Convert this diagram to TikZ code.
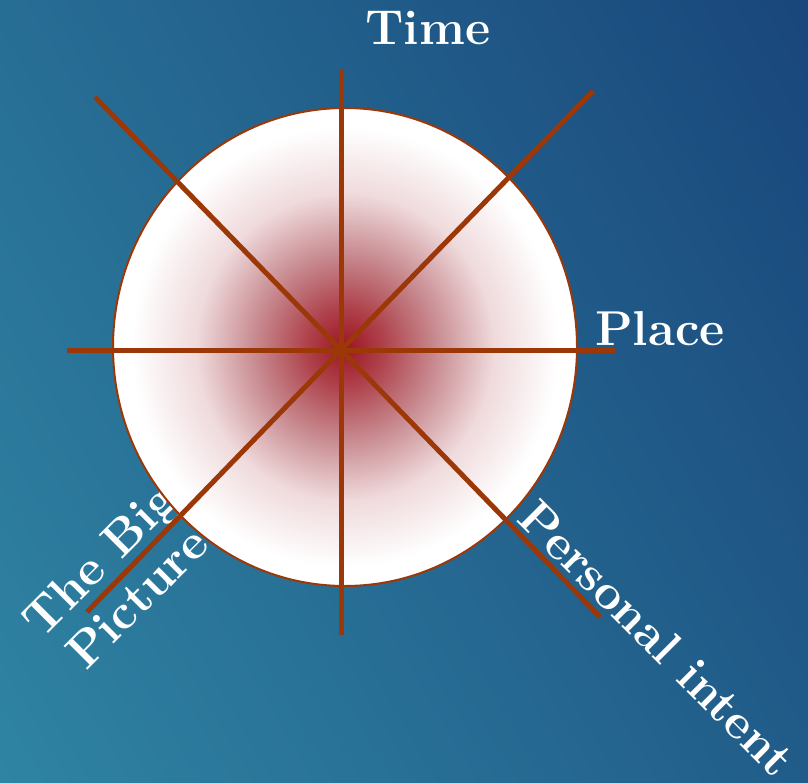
\documentclass[tikz,border=0pt]{standalone}
\usepackage{fontspec}
\usepackage{xcolor}
\usetikzlibrary{calc}

\definecolor{bgteal}{RGB}{52,146,172}
\definecolor{bgnavy}{RGB}{20,56,114}
\definecolor{spokebrown}{RGB}{156,56,8}
\definecolor{glowred}{RGB}{156,22,34}
\pgfdeclarehorizontalshading{bgfade}{100bp}{color(0bp)=(bgteal); color(100bp)=(bgnavy)}
\pgfdeclareradialshading{discglow}{\pgfpoint{0bp}{0bp}}{color(0bp)=(glowred); color(4bp)=(glowred!82!white); color(10bp)=(glowred!48!white!92!gray); color(16bp)=(glowred!16!white); color(23bp)=(white); color(50bp)=(white)}

\begin{document}
\begin{tikzpicture}[x=1pt, y=-1pt,
    heading/.style={text=white, inner sep=0pt, font=\bfseries\fontsize{49}{54}\selectfont},
    spokeline/.style={spokebrown, line width=5}]
  % Canvas
  \useasboundingbox (0,0) rectangle (808,783);
  \clip (0,0) rectangle (808,783);
  \shade[shading=bgfade, shading angle=30] (0,0) rectangle (808,783);
  % Labels
  \node[heading, anchor=base] (time) at (428,45) {Time};
  \node[heading, anchor=base west] (place) at (595,345) {Place};
  \node[heading, align=center, rotate=45] (bigpic) at (118,578) {The Big\\Picture};
  \node[heading, rotate=-45] (intent) at (657,638) {Personal intent};
  % The disc
  \shadedraw[shading=discglow, draw=spokebrown, line width=2] (345,347) ellipse [x radius=232, y radius=239];
  % Spokes through the hub
  \coordinate (hub) at (341,350);
  \coordinate (n) at (341,69);
  \coordinate (s) at (341,635);
  \coordinate (w) at (67,350);
  \coordinate (e) at (615,350);
  \coordinate (nw) at (95,97);
  \coordinate (se) at (600,617);
  \coordinate (ne) at (593,91);
  \coordinate (sw) at (87,612);
  \foreach \a/\b in {n/s, w/e, nw/se, ne/sw}
    \draw[spokeline] (\a) -- (hub) -- (\b);
\end{tikzpicture}
\end{document}
